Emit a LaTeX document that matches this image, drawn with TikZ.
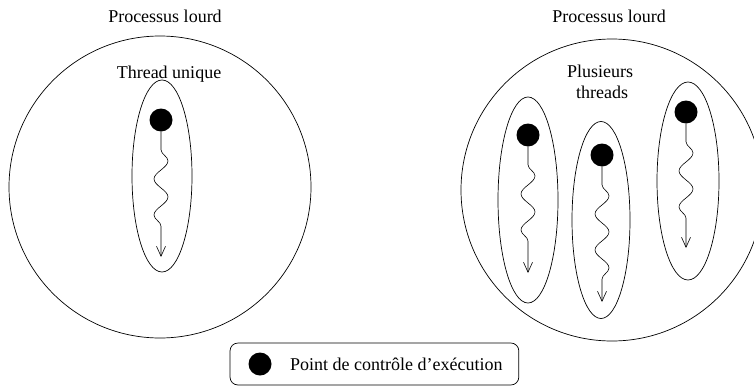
\documentclass[tikz,border=0pt]{standalone}
\usepackage{fontspec}
\setmainfont{Liberation Serif}
\usetikzlibrary{shapes.geometric,decorations.pathmorphing,arrows.meta}
\begin{document}
\begin{tikzpicture}[x=1pt,y=-1pt,
  every node/.style={font=\fontsize{18}{21}\selectfont},
  label/.style={anchor=base,inner sep=0pt},
  process/.style={circle,draw,line width=0.7pt,minimum size=302pt,inner sep=0pt},
  threadbox/.style={ellipse,draw,line width=0.7pt,inner sep=0pt},
  ctrl/.style={circle,fill=black,minimum size=23pt,inner sep=0pt},
  flow/.style={line width=0.6pt,decorate,
    decoration={snake,amplitude=7pt,segment length=36pt,pre length=18pt,post length=16pt},
    -{Straight Barb[length=10pt,width=9pt,line width=0.6pt]}},
  legendbox/.style={draw,rounded corners=8pt,line width=0.7pt,inner sep=0pt}
]
\useasboundingbox (0,0) rectangle (754,388);

% single-threaded process
\node[process] (p1) at (160,187) {};
\node[label] (l1) at (165,22) {Processus lourd};
\node[label] (u1) at (169,78) {Thread unique};
\node[threadbox,minimum width=60pt,minimum height=192pt] (t1) at (162,176) {};
\node[ctrl] (d1) at (161,120) {};
\coordinate (e1) at (161,257);
\draw[flow] (d1.south) -- (e1);

% multi-threaded process
\node[process] (p2) at (612,190) {};
\node[label] (l2) at (609,22) {Processus lourd};
\node[label] (u2) at (600,77) {Plusieurs};
\node[label] (u3) at (602,98) {threads};

\node[threadbox,minimum width=60pt,minimum height=206pt] (t2) at (528,200) {};
\node[ctrl] (d2) at (528,135) {};
\coordinate (e2) at (528,273);
\draw[flow] (d2.south) -- (e2);

\node[threadbox,minimum width=58pt,minimum height=197pt] (t3) at (601,220) {};
\node[ctrl] (d3) at (602,155) {};
\coordinate (e3) at (602,302);
\draw[flow] (d3.south) -- (e3);

\node[threadbox,minimum width=62pt,minimum height=198pt] (t4) at (688,181) {};
\node[ctrl] (d4) at (686,112) {};
\coordinate (e4) at (686,248);
\draw[flow] (d4.south) -- (e4);

% legend
\node[ctrl] (ld) at (260,364) {};
\node[anchor=west,inner sep=0pt] (lt) at (290,364) {Point de contrôle d’exécution};
\draw[legendbox] (230,343) rectangle ([xshift=16pt]lt.east |- 0,385);
\end{tikzpicture}
\end{document}
